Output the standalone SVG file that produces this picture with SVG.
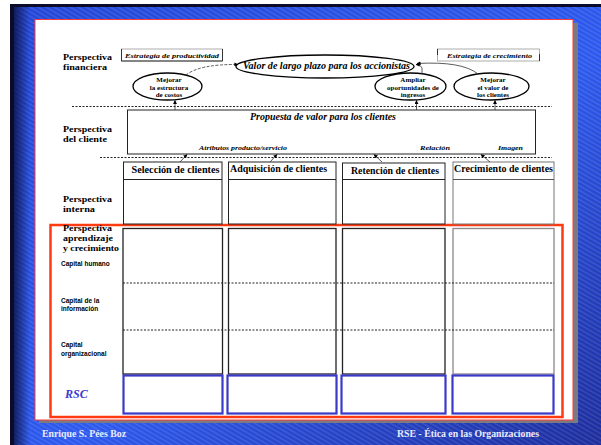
<svg xmlns="http://www.w3.org/2000/svg" width="601" height="445" viewBox="0 0 601 445">
<defs>
<linearGradient id="bg" x1="0" y1="0" x2="1" y2="1">
<stop offset="0" stop-color="#2246d6"/>
<stop offset="0.55" stop-color="#2c58ee"/>
<stop offset="1" stop-color="#1c2c9c"/>
</linearGradient>
<linearGradient id="leftdark" x1="0" y1="0" x2="1" y2="0">
<stop offset="0" stop-color="#0a0f40" stop-opacity="0.8"/>
<stop offset="1" stop-color="#0a0f40" stop-opacity="0"/>
</linearGradient>
<pattern id="hatch" width="4" height="4" patternUnits="userSpaceOnUse" patternTransform="rotate(-60)">
<rect width="1.5" height="4" fill="#ffffff" opacity="0.12"/>
</pattern>
<marker id="ah" viewBox="0 0 10 10" refX="9" refY="5" markerWidth="5" markerHeight="5" orient="auto"><path d="M0,0 L10,5 L0,10 z" fill="#000"/></marker>
<style>
.lbl{font-family:"Liberation Serif",serif;font-weight:bold;font-size:9px;fill:#000}
.cap{font-family:"Liberation Sans",sans-serif;font-weight:bold;font-size:6.5px;fill:#000}
.it{font-family:"Liberation Serif",serif;font-weight:bold;font-style:italic;fill:#000}
.el{fill:#fff;stroke:#000;stroke-width:1.3}
.elt{font-family:"Liberation Serif",serif;font-weight:bold;font-size:7px;fill:#000;text-anchor:middle}
.hd{font-family:"Liberation Serif",serif;font-weight:bold;font-size:9.5px;fill:#000}
.box{fill:#fff;stroke:#222;stroke-width:1}
.dot{stroke:#222;stroke-width:1;stroke-dasharray:2 1.5;fill:none}
.con{stroke:#333;stroke-width:0.8;fill:none;marker-end:url(#ah)}
.rsc{fill:#fff;stroke:#3a3ac8;stroke-width:2.2}
.foot{font-family:"Liberation Serif",serif;font-weight:bold;font-size:10px;fill:#e8ecff}
</style>
</defs>
<!-- background -->
<rect width="601" height="445" fill="#ffffff"/>
<rect x="10" y="4" width="591" height="441" fill="#0b0b2a"/>
<rect x="14" y="7" width="587" height="438" fill="url(#bg)"/>
<rect x="14" y="7" width="587" height="438" fill="url(#hatch)"/>
<rect x="14" y="7" width="16" height="438" fill="url(#leftdark)"/>
<!-- slide panel -->
<rect x="39" y="23" width="539" height="400" fill="#7a7a80"/>
<rect x="35" y="19.5" width="538" height="400.5" fill="#fff" stroke="#ff3a3a" stroke-width="1"/>
<rect x="50.5" y="225" width="512" height="192" fill="none" stroke="#ff3a10" stroke-width="2.5"/>

<!-- perspective labels -->
<g id="lbl-financiera"><text class="lbl" x="63" y="60" textLength="49" lengthAdjust="spacingAndGlyphs">Perspectiva</text><text class="lbl" x="63" y="70" textLength="44" lengthAdjust="spacingAndGlyphs">financiera</text></g>
<g id="lbl-cliente"><text class="lbl" x="63" y="132" textLength="49" lengthAdjust="spacingAndGlyphs">Perspectiva</text><text class="lbl" x="63" y="142" textLength="44" lengthAdjust="spacingAndGlyphs">del cliente</text></g>
<g id="lbl-interna"><text class="lbl" x="63" y="202" textLength="49" lengthAdjust="spacingAndGlyphs">Perspectiva</text><text class="lbl" x="63" y="212" textLength="32" lengthAdjust="spacingAndGlyphs">interna</text></g>
<g id="lbl-aprendizaje"><text class="lbl" x="63" y="231" textLength="49" lengthAdjust="spacingAndGlyphs">Perspectiva</text><text class="lbl" x="63" y="241" textLength="50" lengthAdjust="spacingAndGlyphs">aprendizaje</text><text class="lbl" x="63" y="251" textLength="56" lengthAdjust="spacingAndGlyphs">y crecimiento</text></g>
<g id="lbl-humano"><text class="cap" x="61" y="266">Capital humano</text></g>
<g id="lbl-info"><text class="cap" x="61" y="303">Capital de la</text><text class="cap" x="61" y="311">información</text></g>
<g id="lbl-org"><text class="cap" x="61" y="347">Capital</text><text class="cap" x="61" y="356">organizacional</text></g>
<g id="lbl-rsc"><text class="it" x="65" y="398" font-size="12" style="fill:#3a3ad0">RSC</text></g>

<!-- strategy boxes -->
<g id="estrategia-productividad">
<rect x="121.5" y="49" width="101" height="12" fill="#fff" stroke="#999" stroke-width="0.8"/>
<line x1="121.5" y1="49" x2="121.5" y2="61" stroke="#333"/><line x1="121.5" y1="61" x2="222.5" y2="61" stroke="#333"/><line x1="222.5" y1="49" x2="222.5" y2="61" stroke="#333"/>
<text class="it" x="125" y="57.5" font-size="7" textLength="94" lengthAdjust="spacingAndGlyphs">Estrategia de productividad</text>
</g>
<g id="estrategia-crecimiento">
<rect x="437.5" y="49" width="102" height="12" fill="#fff" stroke="#999" stroke-width="0.8"/>
<line x1="437.5" y1="49" x2="437.5" y2="55" stroke="#333"/><line x1="539.5" y1="54" x2="539.5" y2="61" stroke="#333"/>
<text class="it" x="447" y="57.5" font-size="7" textLength="85" lengthAdjust="spacingAndGlyphs">Estrategia de crecimiento</text>
</g>

<!-- ellipses -->
<g id="valor-largo-plazo">
<ellipse cx="325" cy="66.5" rx="89" ry="11.5" class="el"/>
<text class="it" x="243" y="68.5" font-size="10" textLength="167" lengthAdjust="spacingAndGlyphs">Valor de largo plazo para los accionistas</text>
</g>
<g id="mejorar-costos">
<ellipse cx="167.5" cy="86.5" rx="34.5" ry="13.5" class="el"/>
<text class="elt" x="169" y="82">Mejorar</text><text class="elt" x="169" y="89.5">la estructura</text><text class="elt" x="169" y="97">de costos</text>
</g>
<g id="ampliar-ingresos">
<ellipse cx="410.5" cy="86.5" rx="35.5" ry="13.5" class="el"/>
<text class="elt" x="413" y="82">Ampliar</text><text class="elt" x="413" y="89.5">oportunidades de</text><text class="elt" x="413" y="97">ingresos</text>
</g>
<g id="mejorar-valor">
<ellipse cx="491.5" cy="86.5" rx="37.5" ry="13.5" class="el"/>
<text class="elt" x="493" y="82">Mejorar</text><text class="elt" x="493" y="89.5">el valor de</text><text class="elt" x="493" y="97">los clientes</text>
</g>

<!-- propuesta box -->
<g id="propuesta-valor">
<rect x="127.5" y="110" width="408" height="44" fill="#fff" stroke="#222" stroke-width="1"/>
<text class="it" x="323" y="120" font-size="9.5" text-anchor="middle" textLength="146" lengthAdjust="spacingAndGlyphs">Propuesta de valor para los clientes</text>
<text class="it" x="199" y="149.5" font-size="6.5" textLength="88" lengthAdjust="spacingAndGlyphs">Atributos producto/servicio</text>
<text class="it" x="420" y="149.5" font-size="6.5" textLength="30" lengthAdjust="spacingAndGlyphs">Relación</text>
<text class="it" x="498" y="149.5" font-size="6.5" textLength="25" lengthAdjust="spacingAndGlyphs">Imagen</text>
</g>

<!-- columns: interna -->
<g id="col-seleccion">
<rect class="box" x="123.5" y="162" width="98.5" height="62"/>
<line x1="123.5" y1="179.5" x2="222" y2="179.5" stroke="#222"/>
<text class="hd" x="131.5" y="173" textLength="88" lengthAdjust="spacingAndGlyphs">Selección de clientes</text>
</g>
<g id="col-adquisicion">
<rect class="box" x="228.5" y="162" width="107.5" height="62"/>
<line x1="228.5" y1="179.5" x2="336" y2="179.5" stroke="#222"/>
<text class="hd" x="230" y="172" textLength="97" lengthAdjust="spacingAndGlyphs">Adquisición de clientes</text>
</g>
<g id="col-retencion">
<rect class="box" x="342.5" y="163" width="102.5" height="61"/>
<line x1="342.5" y1="179.5" x2="445" y2="179.5" stroke="#222"/>
<text class="hd" x="351" y="174" textLength="88" lengthAdjust="spacingAndGlyphs">Retención de clientes</text>
</g>
<g id="col-crecimiento">
<rect class="box" x="453" y="162" width="101" height="62" style="stroke:#777"/>
<line x1="453" y1="179.5" x2="554" y2="179.5" stroke="#555"/>
<text class="hd" x="454" y="172" textLength="99" lengthAdjust="spacingAndGlyphs">Crecimiento de clientes</text>
</g>

<!-- learning boxes -->
<g id="aprendizaje-1"><rect class="box" x="123" y="228.5" width="99.5" height="145.5" style="stroke-width:1.3"/></g>
<g id="aprendizaje-2"><rect class="box" x="228.5" y="228.5" width="107.5" height="145.5" style="stroke-width:1.3"/></g>
<g id="aprendizaje-3"><rect class="box" x="342.5" y="228.5" width="102.5" height="145.5" style="stroke-width:1.3"/></g>
<g id="aprendizaje-4"><rect class="box" x="453" y="228.5" width="101" height="145.5" style="stroke:#888;stroke-width:1.3"/></g>

<!-- RSC boxes -->
<g id="rsc-1"><rect class="rsc" x="123.5" y="375.5" width="99" height="38"/></g>
<g id="rsc-2"><rect class="rsc" x="227.5" y="375.5" width="109" height="38"/></g>
<g id="rsc-3"><rect class="rsc" x="341.5" y="375.5" width="104" height="38"/></g>
<g id="rsc-4"><rect class="rsc" x="452.5" y="375.5" width="101" height="38"/></g>

<!-- connectors and separators -->
<g id="connectors">
<line class="dot" x1="72" y1="106.5" x2="552" y2="106.5"/>
<line class="dot" x1="100" y1="157.5" x2="552" y2="157.5"/>
<line class="dot" x1="123" y1="283" x2="554" y2="283"/>
<line class="dot" x1="123" y1="330" x2="554" y2="330"/>
<path class="con" d="M186 75 Q200 64 238 64.5" stroke-dasharray="3 1.5"/>
<path class="con" d="M422 74 L422 68 Q421 64.5 416 64.5"/>
<path class="con" d="M478 74 Q462 61 417 63.5"/>
<line class="con" x1="175" y1="110" x2="175" y2="100.5"/>
<line class="con" x1="416.5" y1="110" x2="416.5" y2="100.5"/>
<line class="con" x1="495" y1="110" x2="495" y2="100.5"/>
<line class="con" x1="180" y1="162" x2="187" y2="154.5"/>
<line class="con" x1="270" y1="162" x2="277" y2="154.5"/>
<line class="con" x1="382" y1="162" x2="374" y2="154.5"/>
<line class="con" x1="490" y1="162" x2="481" y2="154.5"/>
</g>

<!-- footer -->
<text class="foot" x="42" y="437" textLength="84" lengthAdjust="spacingAndGlyphs">Enrique S. Pées Boz</text>
<text class="foot" x="397" y="437" textLength="142" lengthAdjust="spacingAndGlyphs">RSE - Ética en las Organizaciones</text>
</svg>
